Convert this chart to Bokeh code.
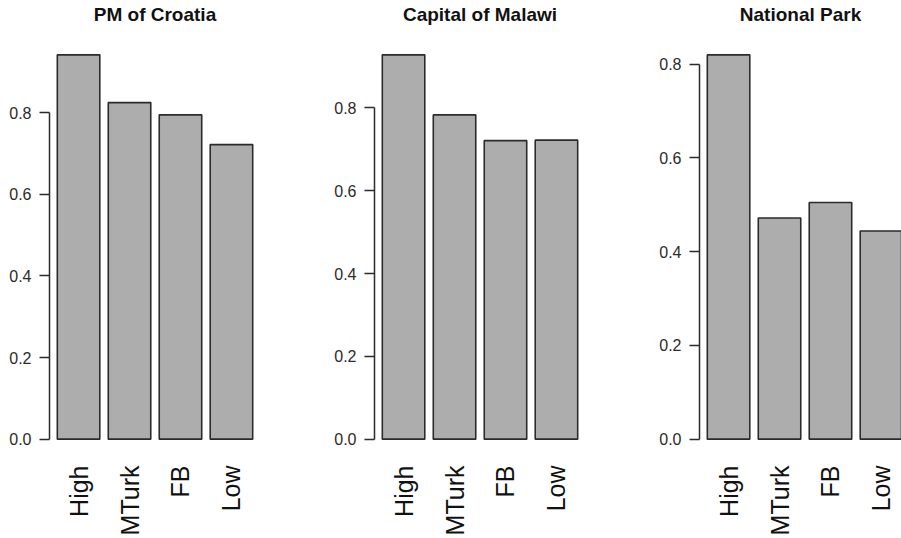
import math
from bokeh.plotting import figure
from bokeh.layouts import row
from bokeh.models import Range1d, FixedTicker, PrintfTickFormatter, ColumnDataSource, LinearAxis
from bokeh.embed import file_html
from bokeh.resources import INLINE

# ---- data ----
groups = ["High", "MTurk", "FB", "Low"]
titles = ["PM of Croatia", "Capital of Malawi", "National Park"]
croatia = [0.942, 0.825, 0.795, 0.722]
malawi = [0.928, 0.783, 0.721, 0.722]
park = [0.820, 0.472, 0.505, 0.444]
y_ticks = [0.0, 0.2, 0.4, 0.6, 0.8]

# ---- styling / layout ----
FONT = "Liberation Sans"
BAR_FILL = "#adadad"
INK = "#2b2b2b"
BAR_W, SPACE = 1.0, 0.2          # R barplot defaults
PANEL_W = 325
FRAME_W = 211
LEFT = 49
TOP = 39
BOTTOM = 84
HEIGHT = 538
LAST_W = 251                     # last panel is cut by the page edge

n = len(groups)
pitch = BAR_W + SPACE
span = n * pitch - SPACE
r_lo = SPACE - 0.04 * span
r_hi = n * pitch + 0.04 * span
idx_lo = (r_lo - (SPACE + BAR_W / 2)) / pitch
idx_hi = (r_hi - (SPACE + BAR_W / 2)) / pitch


def make_panel(title, values, width, frame_w):
    ymax = max(values)
    x_hi = idx_lo + (idx_hi - idx_lo) * frame_w / FRAME_W
    y_lo, y_hi = -0.04 * ymax, 1.04 * ymax
    p = figure(width=width, height=HEIGHT, title=None,
               x_range=Range1d(idx_lo, x_hi),
               y_range=Range1d(y_lo, y_hi),
               output_backend="svg", toolbar_location=None,
               min_border_left=LEFT, min_border_right=width - LEFT - frame_w,
               min_border_top=TOP, min_border_bottom=BOTTOM)
    src = ColumnDataSource(dict(x=list(range(n)), top=values, name=groups))
    p.vbar(x="x", top="top", bottom=0, width=BAR_W / pitch, source=src,
           fill_color=BAR_FILL, line_color=INK, line_width=1.6)

    p.grid.visible = False
    p.outline_line_color = None
    p.background_fill_color = "white"
    p.border_fill_color = "white"

    # panel title drawn as the label of a bare axis above the frame
    tax = LinearAxis(axis_label=title, ticker=FixedTicker(ticks=[]))
    tax.axis_line_color = None
    tax.major_tick_line_color = None
    tax.minor_tick_line_color = None
    tax.major_tick_out = 0
    tax.minor_tick_out = 0
    tax.major_label_text_font_size = "0px"
    tax.axis_label_standoff = 15
    tax.axis_label_text_font = FONT
    tax.axis_label_text_font_size = "19px"
    tax.axis_label_text_font_style = "bold"
    tax.axis_label_text_color = "#111111"
    p.add_layout(tax, "above")

    ticks_here = [t for t in y_ticks if t <= ymax]
    ya = p.yaxis[0]
    ya.ticker = FixedTicker(ticks=ticks_here)
    ya.formatter = PrintfTickFormatter(format="%.1f")
    ya.bounds = (ticks_here[0], ticks_here[-1])
    ya.axis_line_color = INK
    ya.axis_line_width = 1.5
    ya.major_tick_line_color = INK
    ya.major_tick_line_width = 1.5
    ya.major_tick_out = 10
    ya.major_tick_in = 0
    ya.minor_tick_line_color = None
    ya.major_label_standoff = 8
    ya.major_label_text_font = FONT
    ya.major_label_text_font_size = "16px"
    ya.major_label_text_color = INK

    xa = p.below[0]
    xa.ticker = FixedTicker(ticks=list(range(n)))
    overrides = {}
    for i, g in enumerate(groups):
        overrides[i] = g
        overrides[str(i)] = g
    xa.major_label_overrides = overrides
    xa.axis_line_color = None
    xa.major_tick_line_color = None
    xa.minor_tick_line_color = None
    xa.major_label_orientation = math.pi / 2
    xa.major_label_standoff = 5
    xa.major_label_text_font = FONT
    xa.major_label_text_font_size = "25px"
    xa.major_label_text_color = "#111111"
    return p


p1 = make_panel(titles[0], croatia, PANEL_W, FRAME_W)
p2 = make_panel(titles[1], malawi, PANEL_W, FRAME_W)
p3 = make_panel(titles[2], park, LAST_W, LAST_W - LEFT)

layout = row(p1, p2, p3, spacing=0)
open("out.html", "w").write(file_html(layout, INLINE))
